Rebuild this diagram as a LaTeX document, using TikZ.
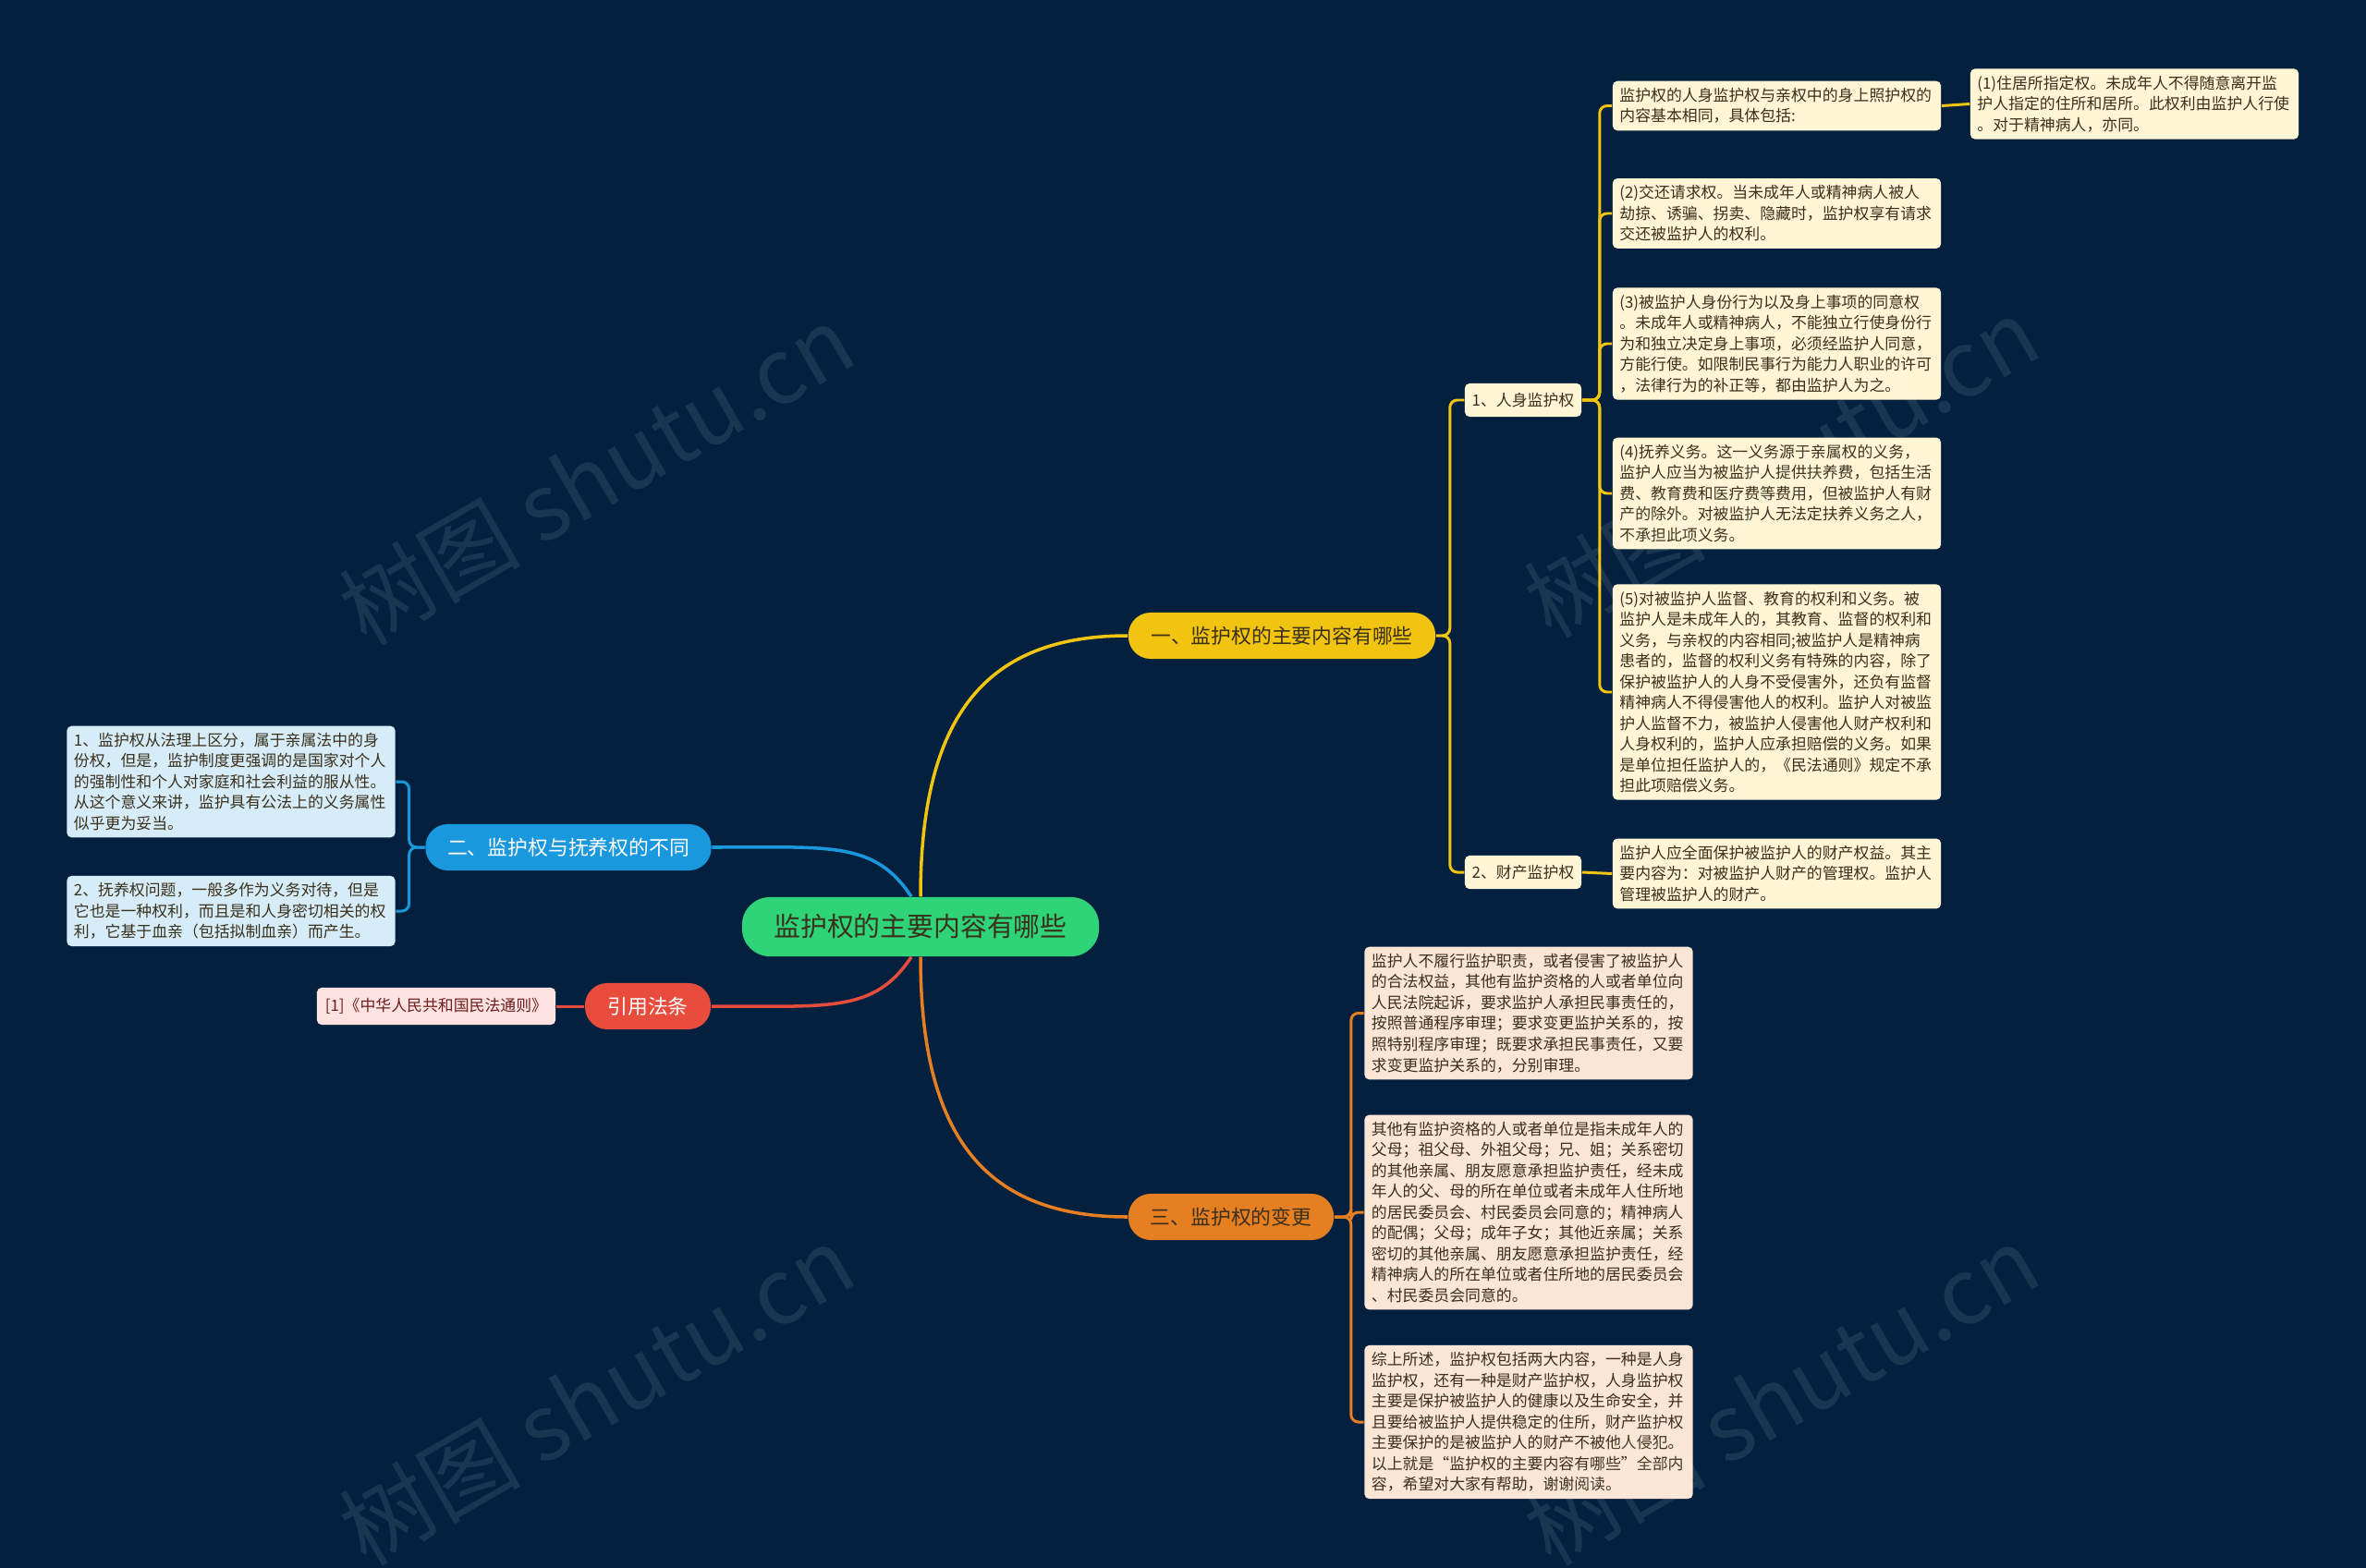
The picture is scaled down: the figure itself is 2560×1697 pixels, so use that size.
\documentclass[tikz,border=0pt]{standalone}
\usepackage{fontspec}
\setmainfont{Noto Sans CJK SC}

\definecolor{bgnavy}{RGB}{3,33,63}
\definecolor{rootgreen}{RGB}{47,211,120}
\definecolor{topicyellow}{RGB}{241,196,15}
\definecolor{topicblue}{RGB}{26,152,222}
\definecolor{topicred}{RGB}{231,76,60}
\definecolor{topicorange}{RGB}{230,126,34}
\definecolor{leafcream}{RGB}{255,246,214}
\definecolor{leafpeach}{RGB}{251,229,213}
\definecolor{leafblue}{RGB}{214,236,248}
\definecolor{leafpink}{RGB}{252,226,224}
\definecolor{inkdark}{RGB}{58,48,28}
\definecolor{inkred}{RGB}{110,30,30}

\newcommand{\leaffont}{\fontsize{4.8}{6.4}\selectfont}
\newcommand{\topicfont}{\fontsize{6.2}{7.4}\selectfont}

\tikzset{
  rootbox/.style={fill=rootgreen, text=inkdark, rounded corners=0.3cm,
    minimum width=3.86cm, minimum height=0.64cm, inner sep=0pt,
    font=\fontsize{8.2}{9.6}\selectfont},
  topicbox/.style={rounded corners=0.24cm, minimum height=0.5cm,
    inner sep=0pt, font=\topicfont},
  subbox/.style={fill=leafcream, text=inkdark, rounded corners=0.05cm,
    minimum width=1.26cm, minimum height=0.36cm, inner sep=0pt, font=\leaffont},
  leaf/.style={rounded corners=0.05cm, text=inkdark, text width=3.4cm,
    align=left, inner xsep=0.075cm, inner ysep=0.075cm, font=\leaffont},
  branch/.style={line width=1pt},
  twig/.style={line width=0.85pt, rounded corners=0.08cm},
  stamp/.style={text=white, opacity=0.09, rotate=30,
    font=\fontsize{28}{30}\selectfont}
}

\begin{document}
\begin{tikzpicture}[x=0.01cm, y=-0.01cm]
\fill[bgnavy] (0,0) rectangle (2560,1697);
\useasboundingbox (0,0) rectangle (2560,1697);

% root and main topics
\node[rootbox] (root) at (996,1003) {监护权的主要内容有哪些};
\node[topicbox, fill=topicyellow, text=inkdark, minimum width=3.32cm] (t1) at (1387,688) {一、监护权的主要内容有哪些};
\node[topicbox, fill=topicblue, text=white, minimum width=3.09cm] (t2) at (615,917) {二、监护权与抚养权的不同};
\node[topicbox, fill=topicorange, text=inkdark, minimum width=2.22cm] (t3) at (1332,1317) {三、监护权的变更};
\node[topicbox, fill=topicred, text=white, minimum width=1.36cm] (t4) at (701,1089) {引用法条};

% branch one
\node[subbox] (s1) at (1648,433) {1、人身监护权};
\node[subbox] (s2) at (1648,944) {2、财产监护权};
\node[leaf, fill=leafcream] (a1) at (1922.5,114.5) {监护权的人身监护权与亲权中的身上照护权的\\内容基本相同，具体包括:};
\node[leaf, fill=leafcream] (p1) at (2309.5,112.5) {(1)住居所指定权。未成年人不得随意离开监\\护人指定的住所和居所。此权利由监护人行使\\。对于精神病人，亦同。};
\node[leaf, fill=leafcream] (a2) at (1922.5,231) {(2)交还请求权。当未成年人或精神病人被人\\劫掠、诱骗、拐卖、隐藏时，监护权享有请求\\交还被监护人的权利。};
\node[leaf, fill=leafcream] (a3) at (1922.5,372) {(3)被监护人身份行为以及身上事项的同意权\\。未成年人或精神病人，不能独立行使身份行\\为和独立决定身上事项，必须经监护人同意，\\方能行使。如限制民事行为能力人职业的许可\\，法律行为的补正等，都由监护人为之。};
\node[leaf, fill=leafcream] (a4) at (1922.5,534) {(4)抚养义务。这一义务源于亲属权的义务，\\监护人应当为被监护人提供扶养费，包括生活\\费、教育费和医疗费等费用，但被监护人有财\\产的除外。对被监护人无法定扶养义务之人，\\不承担此项义务。};
\node[leaf, fill=leafcream] (a5) at (1922.5,749) {(5)对被监护人监督、教育的权利和义务。被\\监护人是未成年人的，其教育、监督的权利和\\义务，与亲权的内容相同;被监护人是精神病\\患者的，监督的权利义务有特殊的内容，除了\\保护被监护人的人身不受侵害外，还负有监督\\精神病人不得侵害他人的权利。监护人对被监\\护人监督不力，被监护人侵害他人财产权利和\\人身权利的，监护人应承担赔偿的义务。如果\\是单位担任监护人的，《民法通则》规定不承\\担此项赔偿义务。};
\node[leaf, fill=leafcream] (b1) at (1922.5,945.5) {监护人应全面保护被监护人的财产权益。其主\\要内容为：对被监护人财产的管理权。监护人\\管理被监护人的财产。};

% branch three
\node[leaf, fill=leafpeach] (c1) at (1654,1096.5) {监护人不履行监护职责，或者侵害了被监护人\\的合法权益，其他有监护资格的人或者单位向\\人民法院起诉，要求监护人承担民事责任的，\\按照普通程序审理；要求变更监护关系的，按\\照特别程序审理；既要求承担民事责任，又要\\求变更监护关系的，分别审理。};
\node[leaf, fill=leafpeach] (c2) at (1654,1312) {其他有监护资格的人或者单位是指未成年人的\\父母；祖父母、外祖父母；兄、姐；关系密切\\的其他亲属、朋友愿意承担监护责任，经未成\\年人的父、母的所在单位或者未成年人住所地\\的居民委员会、村民委员会同意的；精神病人\\的配偶；父母；成年子女；其他近亲属；关系\\密切的其他亲属、朋友愿意承担监护责任，经\\精神病人的所在单位或者住所地的居民委员会\\、村民委员会同意的。};
\node[leaf, fill=leafpeach] (c3) at (1654,1539) {综上所述，监护权包括两大内容，一种是人身\\监护权，还有一种是财产监护权，人身监护权\\主要是保护被监护人的健康以及生命安全，并\\且要给被监护人提供稳定的住所，财产监护权\\主要保护的是被监护人的财产不被他人侵犯。\\以上就是“监护权的主要内容有哪些”全部内\\容，希望对大家有帮助，谢谢阅读。};

% branch two
\node[leaf, fill=leafblue] (d1) at (250,846) {1、监护权从法理上区分，属于亲属法中的身\\份权，但是，监护制度更强调的是国家对个人\\的强制性和个人对家庭和社会利益的服从性。\\从这个意义来讲，监护具有公法上的义务属性\\似乎更为妥当。};
\node[leaf, fill=leafblue] (d2) at (250,986) {2、抚养权问题，一般多作为义务对待，但是\\它也是一种权利，而且是和人身密切相关的权\\利，它基于血亲（包括拟制血亲）而产生。};

% references
\node[subbox, fill=leafpink, text=inkred, minimum width=2.58cm, minimum height=0.4cm] (r1) at (472,1089) {[1]《中华人民共和国民法通则》};

% main curves
\draw[branch, topicyellow] (root.north) .. controls +(0,-200) and +(-150,0) .. (t1.west);
\draw[branch, topicorange] (root.south) .. controls +(0,200) and +(-150,0) .. (t3.west);
\draw[branch, topicblue] (t2.east) .. controls +(130,0) and +(-40,-60) .. ([xshift=-0.1cm]root.north);
\draw[branch, topicred] (t4.east) .. controls +(130,0) and +(-40,60) .. ([xshift=-0.1cm]root.south);

% brackets
\foreach \n in {s1,s2}
  \draw[twig, topicyellow] (t1.east) -- ++(15,0) |- (\n.west);
\foreach \n in {a1,a2,a3,a4,a5}
  \draw[twig, topicyellow] (s1.east) -- ++(19,0) |- (\n.west);
\draw[twig, topicyellow] (s2.east) -- (b1.west);
\draw[twig, topicyellow] (a1.east) -- (p1.west);
\foreach \n in {c1,c2,c3}
  \draw[twig, topicorange] (t3.east) -- ++(18,0) |- (\n.west);
\foreach \n in {d1,d2}
  \draw[twig, topicblue] (t2.west) -- ++(-17,0) |- (\n.east);
\draw[twig, topicred] (t4.west) -- (r1.east);

% watermarks
\node[stamp] (w1) at (645,514) {树图 shutu.cn};
\node[stamp] (w2) at (1927,506) {树图 shutu.cn};
\node[stamp] (w3) at (645,1510) {树图 shutu.cn};
\node[stamp] (w4) at (1927,1510) {树图 shutu.cn};
\end{tikzpicture}
\end{document}
